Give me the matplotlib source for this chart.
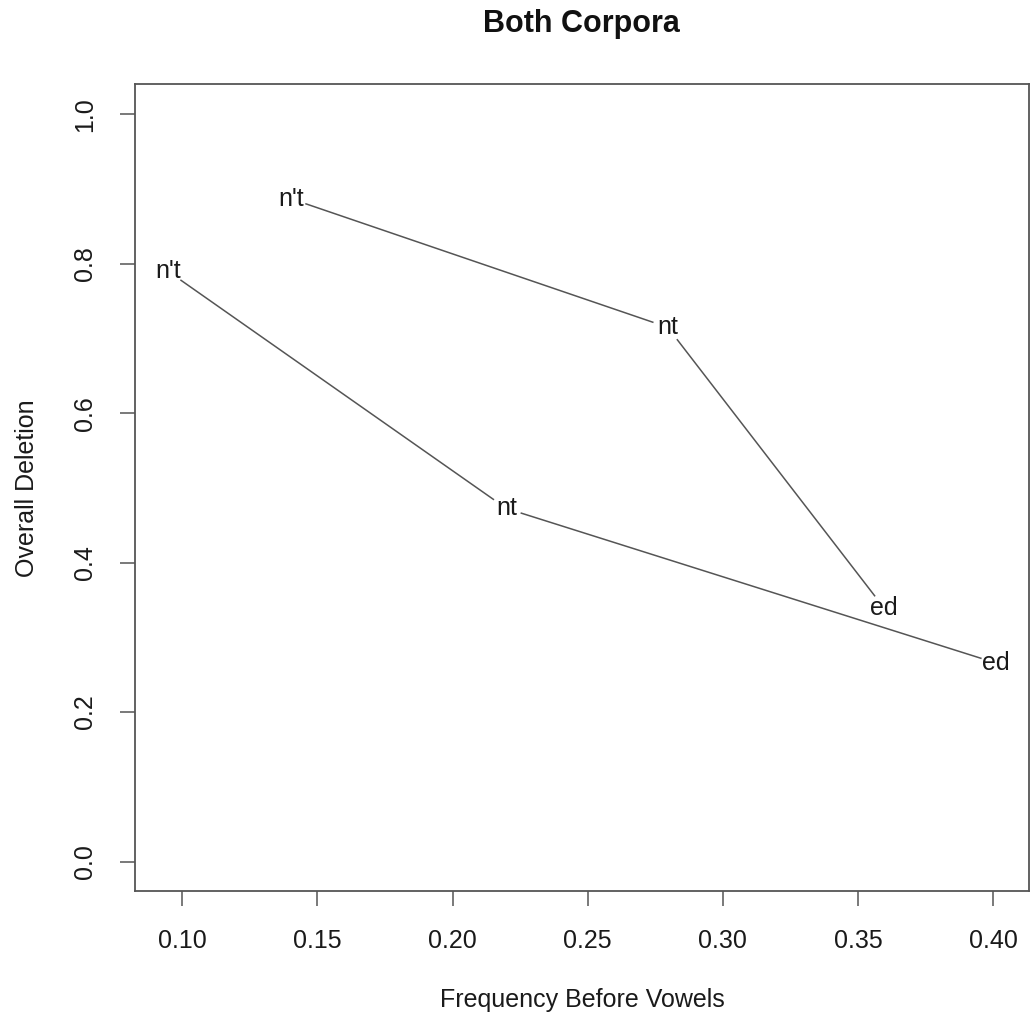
import numpy as np
import matplotlib
matplotlib.use("Agg")
import matplotlib.pyplot as plt

plt.rcParams['font.family'] = ['Liberation Sans', 'DejaVu Sans']

# two corpora, three items each
labels = ["n't", "nt", "ed"]
freq_a = [0.0948, 0.2199, 0.4010]
del_a = [0.790, 0.4726, 0.2657]
freq_b = [0.1403, 0.2796, 0.3597]
del_b = [0.887, 0.715, 0.339]

fig = plt.figure(figsize=(10.32, 10.14), dpi=100)
ax = fig.add_axes([0.1308, 0.1209, 0.8663, 0.7958])

xmin = min(freq_a + freq_b)
xmax = max(freq_a + freq_b)
pad = 0.04 * (xmax - xmin)
ax.set_xlim(xmin - pad, xmax + pad)
ax.set_ylim(-0.04, 1.04)

gap = 15  # pixels cut away around each label, like R type="b"
fig.canvas.draw()
for xs, ys in [(freq_a, del_a), (freq_b, del_b)]:
    pts = ax.transData.transform(np.column_stack([xs, ys]))
    for i in range(len(pts) - 1):
        p0, p1 = pts[i], pts[i + 1]
        d = p1 - p0
        u = d / np.hypot(*d)
        seg = np.array([p0 + u * gap, p1 - u * gap])
        seg = ax.transData.inverted().transform(seg)
        ax.plot(seg[:, 0], seg[:, 1], color='#555555', lw=1.1, solid_capstyle='butt')
    for lab, x, y in zip(labels, xs, ys):
        ax.text(x, y, lab, ha='center', va='center', fontsize=18, color='#1a1a1a')

ax.set_xticks([0.10, 0.15, 0.20, 0.25, 0.30, 0.35, 0.40])
ax.set_xticklabels(['0.10', '0.15', '0.20', '0.25', '0.30', '0.35', '0.40'])
ax.set_yticks([0.0, 0.2, 0.4, 0.6, 0.8, 1.0])
ax.set_yticklabels(['0.0', '0.2', '0.4', '0.6', '0.8', '1.0'], rotation=90, va='center')
ax.tick_params(direction='out', length=11, width=1.1, color='#555555',
               labelsize=18, labelcolor='#1a1a1a', pad=16)

for s in ax.spines.values():
    s.set_color('#555555')
    s.set_linewidth(1.3)

ax.set_xlabel('Frequency Before Vowels', fontsize=18, color='#1a1a1a')
ax.xaxis.label.set_va('center')
ax.xaxis.set_label_coords(0.5, -0.1346)
ax.set_ylabel('Overall Deletion', fontsize=18, color='#1a1a1a')
ax.yaxis.label.set_va('center')
ax.yaxis.set_label_coords(-0.1208, 0.5)

fig.text(0.5636, 1 - 24 / 1014, 'Both Corpora', ha='center', va='center',
         fontsize=22, fontweight='bold', color='#111111')

fig.savefig('out.png', dpi=100)
